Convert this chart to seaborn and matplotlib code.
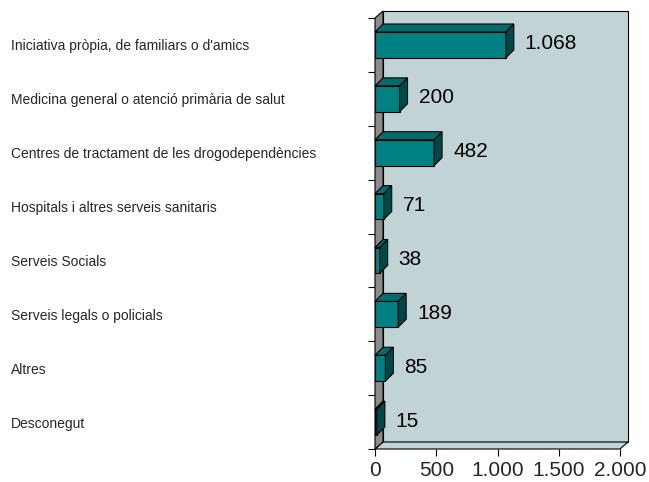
import numpy as np
import pandas as pd
import matplotlib

matplotlib.use("Agg")
import matplotlib.pyplot as plt
import seaborn as sns
from matplotlib.patches import Polygon

# ===================== 数据 =====================
categories = [
    "Iniciativa pròpia, de familiars o d'amics",
    "Medicina general o atenció primària de salut",
    "Centres de tractament de les drogodependències",
    "Hospitals i altres serveis sanitaris",
    "Serveis Socials",
    "Serveis legals o policials",
    "Altres",
    "Desconegut",
]
values = [1068, 200, 482, 71, 38, 189, 85, 15]
value_labels = ["1.068", "200", "482", "71", "38", "189", "85", "15"]
xticks = [0, 500, 1000, 1500, 2000]
xtick_labels = ["0", "500", "1.000", "1.500", "2.000"]

df = pd.DataFrame({"cat": categories, "val": values})

# ===================== 样式 =====================
sns.set_style("white")
plt.rcParams["font.family"] = ["Liberation Sans", "DejaVu Sans"]

W, H = 649, 482
fig = plt.figure(figsize=(W / 100, H / 100), dpi=100)
ax_l, ax_r, ax_t, ax_b = 375, 620, 18, 449
ax = fig.add_axes([ax_l / W, 1 - ax_b / H, (ax_r - ax_l) / W, (ax_b - ax_t) / H])

front = "#008080"
top_c = "#006C6C"
side_c = "#004848"
wall = "#C2D3D6"
left_wall = "#8C8C8C"

bar_w = 0.48
sns.barplot(data=df, x="val", y="cat", orient="h", color=front, width=bar_w,
            edgecolor="black", linewidth=0.8, saturation=1, ax=ax, zorder=3)

ax.set_xlim(0, 2000)
ax.set_ylim(len(categories) - 0.5, -0.5)

# 3D depth (px)
dpx = 8
px_x = 2000 / (ax_r - ax_l)                      # data units per px (x)
px_y = len(categories) / (ax_b - ax_t)           # data units per px (y)
ox = dpx / (ax_r - ax_l)
oy = 7 / (ax_b - ax_t)
dx = dpx * px_x
dy = dpx * px_y

# walls (axes coords)
tr = ax.transAxes
ax.add_patch(Polygon([(ox, oy), (1 + ox, oy), (1 + ox, 1 + oy), (ox, 1 + oy)], closed=True,
                     facecolor=wall, edgecolor="black", lw=0.8, transform=tr, clip_on=False, zorder=0.5))
ax.add_patch(Polygon([(0, 0), (1, 0), (1 + ox, oy), (ox, oy)], closed=True,
                     facecolor=wall, edgecolor="black", lw=0.8, transform=tr, clip_on=False, zorder=0.6))
ax.add_patch(Polygon([(0, 0), (ox, oy), (ox, 1 + oy), (0, 1)], closed=True,
                     facecolor=left_wall, edgecolor="black", lw=0.8, transform=tr, clip_on=False, zorder=0.6))

# bar top/side faces + labels
for i, p in enumerate(ax.patches[:len(values)]):
    v = p.get_width()
    yt = p.get_y()
    yb = yt + p.get_height()
    ax.add_patch(Polygon([(0, yt), (v, yt), (v + dx, yt - dy), (dx, yt - dy)], closed=True,
                         facecolor=top_c, edgecolor="black", lw=0.8, zorder=3, clip_on=False))
    ax.add_patch(Polygon([(v, yt), (v + dx, yt - dy), (v + dx, yb - dy), (v, yb)], closed=True,
                         facecolor=side_c, edgecolor="black", lw=0.8, zorder=3, clip_on=False))
    ax.text(v + dx + 11 * px_x, i + 4.5 * px_y, value_labels[i], ha="left", va="baseline",
            fontsize=15, color="black", zorder=4)

for s in ax.spines.values():
    s.set_visible(False)

ax.set_xlabel("")
ax.set_ylabel("")
ax.set_xticks(xticks)
ax.set_xticklabels(xtick_labels, fontsize=15)
ax.set_yticks(range(len(categories)))
ax.set_yticklabels(categories, fontsize=10)
ax.set_yticks(np.arange(-0.5, len(categories)), minor=True)
ax.tick_params(axis="y", which="major", length=0, pad=(ax_l - 11) * 0.72)
ax.tick_params(axis="y", which="minor", length=5, width=0.8, color="black", left=True)
ax.tick_params(axis="x", length=5, width=0.8, color="black", bottom=True, pad=4)
for lab in ax.get_yticklabels():
    lab.set_ha("left")

fig.savefig("out.png", dpi=100)
